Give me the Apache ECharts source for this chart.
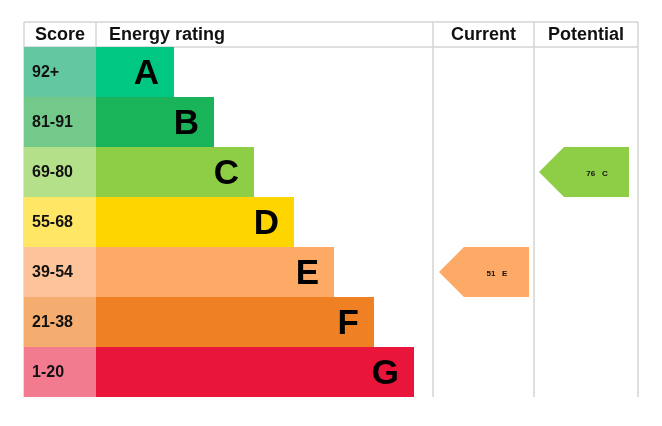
<!DOCTYPE html>
<html><head><meta charset="utf-8">
<script src="https://cdn.jsdelivr.net/npm/echarts@6/dist/echarts.min.js"></script>
<style>html,body{margin:0;padding:0;background:#fff}#c{width:662px;height:426px}</style>
</head><body><div id="c"></div>
<script>
const bands = ['A','B','C','D','E','F','G'];
const scoreLabels = ['92+','81-91','69-80','55-68','39-54','21-38','1-20'];
const barEnds = [150,190,230,270,310,350,390];
const barColors = ['#00c781','#19b459','#8dce46','#ffd500','#fcaa65','#ef8023','#e9153b'];
const scoreColors = ['#63c7a0','#72c98a','#b5e08a','#ffe665','#fdc39a','#f4ad6e','#f27b90'];
const headers = ['Score','Energy rating','Current','Potential'];
const columnEdges = [0,72,409,510,614];
const current = {score:51, band:'E'};
const potential = {score:76, band:'C'};
const font = '"Liberation Sans", Arial, sans-serif';

const chart = echarts.init(document.getElementById('c'));
function rowTop(i){return 25+50*i;}
const rows = bands.map((b,i)=>[i]);
chart.setOption({
  animation:false,
  grid:{left:24,right:24,top:22,bottom:29},
  xAxis:{type:'value',min:0,max:614,show:false},
  yAxis:{type:'value',min:0,max:375,inverse:true,show:false},
  series:[
    {type:'custom',data:[[0]],renderItem:(p,api)=>{
      const ch=[];
      const top=api.coord([0,0])[1], hb=api.coord([0,25])[1], bot=api.coord([0,375])[1];
      const l=api.coord([0,0])[0], r=api.coord([614,0])[0];
      ch.push({type:'line',shape:{x1:l,y1:top,x2:r,y2:top},style:{stroke:'#d4d4d4',lineWidth:1.5}});
      ch.push({type:'line',shape:{x1:l,y1:hb,x2:r,y2:hb},style:{stroke:'#d4d4d4',lineWidth:1.5}});
      columnEdges.forEach(e=>{const x=api.coord([e,0])[0];ch.push({type:'line',shape:{x1:x,y1:top,x2:x,y2:bot},style:{stroke:'#d4d4d4',lineWidth:1.5}});});
      const hx=[[36,'center'],[85,'left'],[459.5,'center'],[562,'center']];
      headers.forEach((h,k)=>{const pt=api.coord([hx[k][0],12.5]);ch.push({type:'text',style:{text:h,x:pt[0],y:pt[1]+1,align:hx[k][1],verticalAlign:'middle',font:'bold 18px '+font,fill:'#111'}});});
      return {type:'group',children:ch};
    }},
    {type:'custom',data:rows,renderItem:(p,api)=>{
      const i=api.value(0);
      const a=api.coord([0,rowTop(i)]), b=api.coord([72,rowTop(i)+50]);
      const c=api.coord([barEnds[i],rowTop(i)+50]);
      const mid=(a[1]+b[1])/2;
      return {type:'group',children:[
        {type:'rect',shape:{x:a[0],y:a[1],width:b[0]-a[0],height:b[1]-a[1]},style:{fill:scoreColors[i]}},
        {type:'rect',shape:{x:b[0],y:a[1],width:c[0]-b[0],height:b[1]-a[1]},style:{fill:barColors[i]}},
        {type:'text',style:{text:scoreLabels[i],x:a[0]+8,y:mid+1,verticalAlign:'middle',font:'bold 16px '+font,fill:'#111'}},
        {type:'text',style:{text:bands[i],x:c[0]-15,y:mid+2,align:'right',verticalAlign:'middle',font:'bold 35px '+font,fill:'#000'}}
      ]};
    }},
    {type:'custom',data:[[415,505,bands.indexOf(current.band),current.score],[515,605,bands.indexOf(potential.band),potential.score]],renderItem:(p,api)=>{
      const x0=api.value(0),x1=api.value(1),i=api.value(2),sc=api.value(3);
      const a=api.coord([x0,rowTop(i)]), b=api.coord([x1,rowTop(i)+50]);
      const mid=(a[1]+b[1])/2, h=b[1]-a[1];
      const pts=[[a[0],mid],[a[0]+h/2,a[1]],[b[0],a[1]],[b[0],b[1]],[a[0]+h/2,b[1]]];
      return {type:'group',children:[
        {type:'polygon',shape:{points:pts},style:{fill:barColors[i]}},
        {type:'text',style:{text:sc+'   '+bands[i],x:(a[0]+b[0])/2+13,y:mid+2,align:'center',verticalAlign:'middle',font:'bold 8px '+font,fill:'#111'}}
      ]};
    }}
  ]
});
</script></body></html>
